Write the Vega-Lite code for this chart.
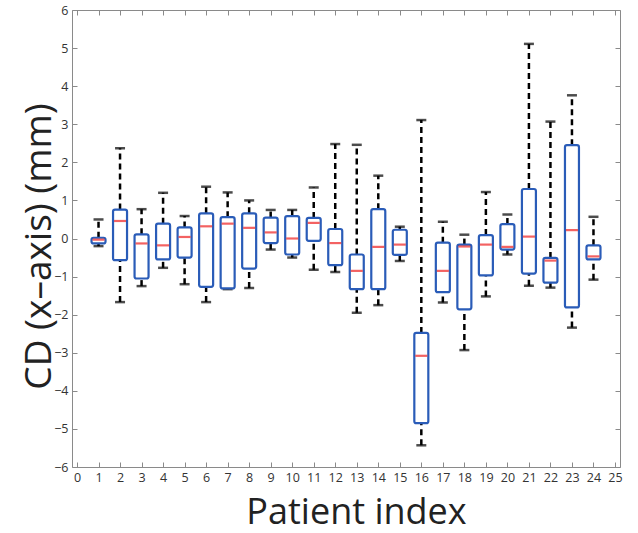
{
  "$schema": "https://vega.github.io/schema/vega-lite/v6.json",
  "autosize": {"type": "none"},
  "width": 548,
  "height": 457,
  "padding": {"left": 72, "top": 10, "right": 18, "bottom": 66},
  "background": "white",
  "config": {
    "view": {"stroke": "#8a8a8a", "strokeWidth": 1},
    "axis": {
      "domain": false,
      "tickColor": "#8a8a8a",
      "tickSize": 5,
      "offset": -5,
      "labelColor": "#333333",
      "labelFont": "Open Sans",
      "labelFontSize": 12.5,
      "titleFont": "Open Sans",
      "titleFontWeight": "normal",
      "titleColor": "#222222",
      "grid": false
    }
  },
  "data": {
    "values": [
      {"p": 1, "wlo": -0.2, "q1": -0.13, "med": -0.03, "q3": 0.02, "whi": 0.5},
      {"p": 2, "wlo": -1.67, "q1": -0.57, "med": 0.46, "q3": 0.76, "whi": 2.37},
      {"p": 3, "wlo": -1.25, "q1": -1.05, "med": -0.13, "q3": 0.11, "whi": 0.77},
      {"p": 4, "wlo": -0.77, "q1": -0.55, "med": -0.18, "q3": 0.39, "whi": 1.2},
      {"p": 5, "wlo": -1.2, "q1": -0.5, "med": 0.04, "q3": 0.29, "whi": 0.59},
      {"p": 6, "wlo": -1.67, "q1": -1.27, "med": 0.32, "q3": 0.66, "whi": 1.36},
      {"p": 7, "wlo": -1.33, "q1": -1.31, "med": 0.39, "q3": 0.56, "whi": 1.21},
      {"p": 8, "wlo": -1.3, "q1": -0.79, "med": 0.28, "q3": 0.66, "whi": 1.0},
      {"p": 9, "wlo": -0.29, "q1": -0.12, "med": 0.16, "q3": 0.55, "whi": 0.75},
      {"p": 10, "wlo": -0.5, "q1": -0.42, "med": 0.0, "q3": 0.59, "whi": 0.75},
      {"p": 11, "wlo": -0.82, "q1": -0.06, "med": 0.41, "q3": 0.54, "whi": 1.34},
      {"p": 12, "wlo": -0.88, "q1": -0.7, "med": -0.12, "q3": 0.25, "whi": 2.48},
      {"p": 13, "wlo": -1.95, "q1": -1.33, "med": -0.85, "q3": -0.42, "whi": 2.46},
      {"p": 14, "wlo": -1.75, "q1": -1.33, "med": -0.22, "q3": 0.77, "whi": 1.65},
      {"p": 15, "wlo": -0.59, "q1": -0.43, "med": -0.16, "q3": 0.23, "whi": 0.31},
      {"p": 16, "wlo": -5.43, "q1": -4.85, "med": -3.08, "q3": -2.48, "whi": 3.11},
      {"p": 17, "wlo": -1.68, "q1": -1.41, "med": -0.85, "q3": -0.11, "whi": 0.44},
      {"p": 18, "wlo": -2.93, "q1": -1.86, "med": -0.21, "q3": -0.16, "whi": 0.1},
      {"p": 19, "wlo": -1.52, "q1": -0.97, "med": -0.16, "q3": 0.09, "whi": 1.22},
      {"p": 20, "wlo": -0.42, "q1": -0.29, "med": -0.22, "q3": 0.38, "whi": 0.63},
      {"p": 21, "wlo": -1.24, "q1": -0.92, "med": 0.05, "q3": 1.3, "whi": 5.11},
      {"p": 22, "wlo": -1.29, "q1": -1.16, "med": -0.58, "q3": -0.51, "whi": 3.07},
      {"p": 23, "wlo": -2.34, "q1": -1.81, "med": 0.22, "q3": 2.45, "whi": 3.76},
      {"p": 24, "wlo": -1.08, "q1": -0.55, "med": -0.47, "q3": -0.18, "whi": 0.57}
    ]
  },
  "resolve": {"axis": {"x": "independent", "y": "independent"}},
  "layer": [
    {
      "mark": {"type": "rule", "color": "black", "strokeWidth": 2.5, "strokeDash": [6, 4]},
      "encoding": {
        "x": {"field": "p", "type": "quantitative", "scale": {"domain": [0, 25], "nice": false},
          "axis": {"orient": "bottom", "values": [0,1,2,3,4,5,6,7,8,9,10,11,12,13,14,15,16,17,18,19,20,21,22,23,24,25], "title": "Patient index", "titleFontSize": 36, "titleBaseline": "alphabetic", "titleX": 284, "titleY": 61, "labelPadding": 4}},
        "y": {"field": "q3", "type": "quantitative", "scale": {"domain": [-6, 6], "nice": false},
          "axis": {"orient": "left", "values": [-6,-5,-4,-3,-2,-1,0,1,2,3,4,5,6], "title": "CD (x–axis) (mm)", "titleFontSize": 37, "titleBaseline": "alphabetic", "titleX": -27, "titleY": 236, "labelPadding": 4}},
        "y2": {"field": "whi"}
      }
    },
    {
      "mark": {"type": "rule", "color": "black", "strokeWidth": 2.5, "strokeDash": [6, 4]},
      "encoding": {
        "x": {"field": "p", "type": "quantitative", "axis": {"orient": "top", "values": [0,1,2,3,4,5,6,7,8,9,10,11,12,13,14,15,16,17,18,19,20,21,22,23,24,25], "labels": false, "title": null}},
        "y": {"field": "wlo", "type": "quantitative", "axis": {"orient": "right", "values": [-6,-5,-4,-3,-2,-1,0,1,2,3,4,5,6], "labels": false, "title": null}},
        "y2": {"field": "q1"}
      }
    },
    {
      "mark": {"type": "tick", "color": "black", "orient": "horizontal", "size": 10, "thickness": 2.5},
      "encoding": {
        "x": {"field": "p", "type": "quantitative", "axis": null},
        "y": {"field": "whi", "type": "quantitative", "axis": null}
      }
    },
    {
      "mark": {"type": "tick", "color": "black", "orient": "horizontal", "size": 10, "thickness": 2.5},
      "encoding": {
        "x": {"field": "p", "type": "quantitative", "axis": null},
        "y": {"field": "wlo", "type": "quantitative", "axis": null}
      }
    },
    {
      "mark": {"type": "bar", "size": 14, "fill": "white", "stroke": "#2a5cb8", "strokeWidth": 2.2, "cornerRadius": 2},
      "encoding": {
        "x": {"field": "p", "type": "quantitative", "axis": null},
        "y": {"field": "q1", "type": "quantitative", "axis": null},
        "y2": {"field": "q3"}
      }
    },
    {
      "mark": {"type": "tick", "color": "#ee2020", "orient": "horizontal", "size": 12, "thickness": 2.2},
      "encoding": {
        "x": {"field": "p", "type": "quantitative", "axis": null},
        "y": {"field": "med", "type": "quantitative", "axis": null}
      }
    }
  ]
}
